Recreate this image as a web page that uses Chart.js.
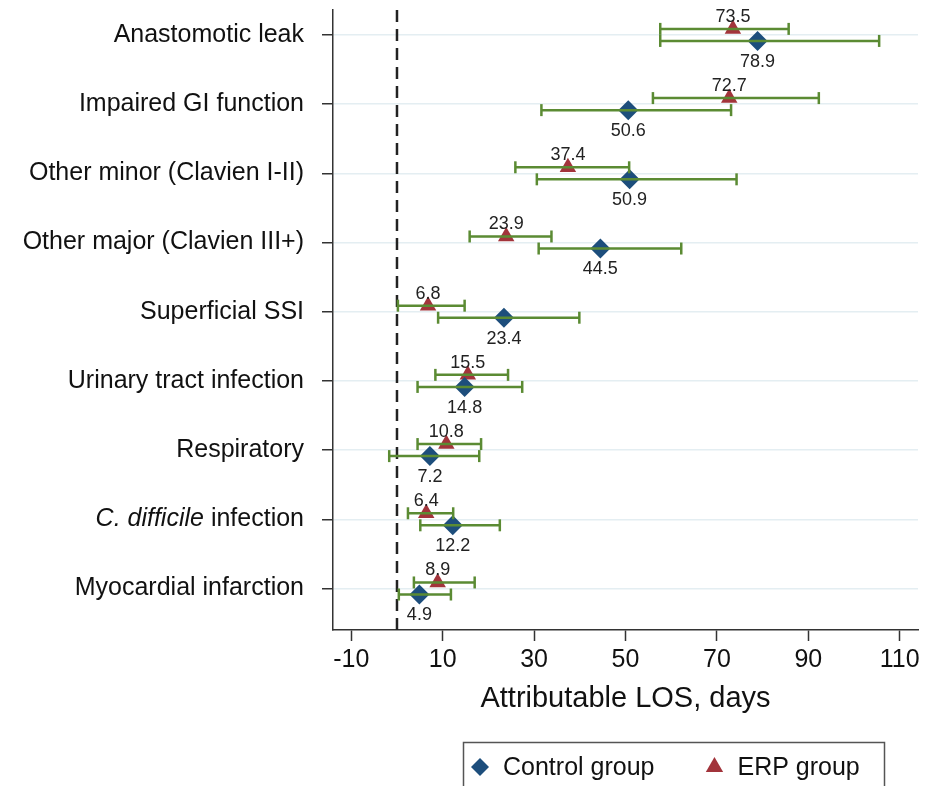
<!DOCTYPE html>
<html>
<head>
<meta charset="utf-8">
<script src="https://cdn.jsdelivr.net/npm/chart.js@4.4.1/dist/chart.umd.min.js"></script>
<style>
  html, body { margin: 0; padding: 0; background: #fff; overflow: hidden; }
  canvas { display: block; }
</style>
</head>
<body>
<canvas id="los" width="936" height="800"></canvas>
<script>
// complications, top to bottom
const categories = [
  'Anastomotic leak',
  'Impaired GI function',
  'Other minor (Clavien I-II)',
  'Other major (Clavien III+)',
  'Superficial SSI',
  'Urinary tract infection',
  'Respiratory',
  'C. difficile infection',
  'Myocardial infarction'
];
const italicPart = 'C. difficile';

// attributable LOS (days) with 95% CI
const controlEst  = [78.9, 50.6, 50.9, 44.5, 23.4, 14.8, 7.2, 12.2, 4.9];
const controlLow  = [57.6, 31.6, 30.6, 31.0, 9.0, 4.5, -1.7, 5.1, 0.4];
const controlHigh = [105.5, 73.1, 74.3, 62.2, 39.9, 27.4, 18.0, 22.5, 11.8];

const erpEst  = [73.5, 72.7, 37.4, 23.9, 6.8, 15.5, 10.8, 6.4, 8.9];
const erpLow  = [57.6, 56.0, 25.9, 15.9, 0.2, 8.4, 4.5, 2.4, 3.7];
const erpHigh = [85.7, 92.3, 50.8, 33.8, 14.8, 24.3, 18.4, 12.3, 17.0];

const xTicks = [-10, 10, 30, 50, 70, 90, 110];
const refLine = 0;

const FONT = '"Liberation Sans", Arial, Helvetica, sans-serif';
const BLUE = '#1d4e7c';
const RED = '#a2343b';
const GREEN = '#5b8b33';
const ROW_SHIFT = 0.087;
const Y_MIN = 0.64, Y_MAX = 9.6;

const rows = categories.map((c, i) => i + 1);

function points(est, shift) {
  return est.map((v, i) => ({ x: v, y: rows[i] + shift }));
}

function bars(lo, hi, shift) {
  const out = [];
  lo.forEach((v, i) => {
    out.push({ x: v, y: rows[i] + shift }, { x: hi[i], y: rows[i] + shift }, { x: null, y: null });
  });
  return out;
}

function barSet(data) {
  return {
    data: data,
    showLine: true,
    borderColor: GREEN,
    borderWidth: 2.5,
    pointStyle: 'line',
    pointRotation: 90,
    pointRadius: 6,
    pointBorderWidth: 2.5,
    pointBorderColor: GREEN,
    order: 0
  };
}

// value labels next to the markers
const valueLabels = {
  id: 'valueLabels',
  afterDatasetsDraw(chart) {
    const ctx = chart.ctx;
    ctx.save();
    ctx.font = '18px ' + FONT;
    ctx.fillStyle = '#222';
    ctx.textAlign = 'center';
    ctx.textBaseline = 'middle';
    chart.data.datasets.forEach((ds, di) => {
      if (!ds.valueOffset) return;
      chart.getDatasetMeta(di).data.forEach((el, i) => {
        ctx.fillText(ds.data[i].x.toFixed(1), el.x, el.y + ds.valueOffset);
      });
    });
    ctx.restore();
  }
};

// category label with an italic part
const italicTick = {
  id: 'italicTick',
  afterDraw(chart) {
    const y = chart.scales.y;
    const ctx = chart.ctx;
    const right = y.right - y.options.grid.tickLength - y.options.ticks.padding;
    ctx.save();
    ctx.fillStyle = '#111';
    ctx.textBaseline = 'middle';
    ctx.textAlign = 'right';
    categories.forEach((c, i) => {
      if (c.indexOf(italicPart) !== 0) return;
      const py = y.getPixelForValue(rows[i]);
      const rest = c.slice(italicPart.length);
      ctx.font = '25px ' + FONT;
      ctx.fillText(rest, right, py);
      const w = ctx.measureText(rest).width;
      ctx.font = 'italic 25px ' + FONT;
      ctx.fillText(italicPart, right - w, py);
    });
    ctx.restore();
  }
};

// framed legend below the axis title
const boxLegend = {
  id: 'boxLegend',
  afterDraw(chart, args, opts) {
    const ctx = chart.ctx;
    ctx.save();
    ctx.strokeStyle = '#555';
    ctx.lineWidth = 1.5;
    ctx.strokeRect(opts.left, opts.top, opts.width, opts.height);
    ctx.font = '25px ' + FONT;
    ctx.textBaseline = 'middle';
    ctx.textAlign = 'left';
    let x = opts.firstX;
    chart.data.datasets.filter(d => d.inLegend).forEach(ds => {
      ctx.fillStyle = ds.backgroundColor;
      Chart.helpers.drawPoint(ctx, {
        pointStyle: ds.pointStyle, radius: ds.legendRadius, rotation: 0, borderWidth: 0
      }, x, opts.y);
      ctx.fillStyle = '#111';
      ctx.fillText(ds.label, x + 23, opts.y + 1);
      x += 23 + ctx.measureText(ds.label).width + 60;
    });
    ctx.restore();
  }
};

new Chart(document.getElementById('los'), {
  type: 'scatter',
  data: {
    datasets: [
      {
        label: 'Control group',
        data: points(controlEst, ROW_SHIFT),
        pointStyle: 'rectRot',
        pointRadius: 10,
        backgroundColor: BLUE,
        borderWidth: 0,
        valueOffset: 21,
        inLegend: true,
        legendRadius: 9,
        order: 1
      },
      {
        label: 'ERP group',
        data: points(erpEst, -ROW_SHIFT),
        pointStyle: 'triangle',
        pointRadius: 9.5,
        backgroundColor: RED,
        borderWidth: 0,
        valueOffset: -12,
        inLegend: true,
        legendRadius: 10,
        order: 1
      },
      Object.assign(barSet(bars(erpLow, erpHigh, -ROW_SHIFT)), { label: 'ERP CI' }),
      Object.assign(barSet(bars(controlLow, controlHigh, ROW_SHIFT)), { label: 'Control CI' }),
      {
        label: 'zero',
        data: [{ x: refLine, y: Y_MIN }, { x: refLine, y: Y_MAX }],
        showLine: true,
        borderColor: '#222',
        borderWidth: 2.5,
        borderDash: [12, 7],
        pointRadius: 0,
        order: 2
      }
    ]
  },
  options: {
    responsive: false,
    animation: false,
    events: [],
    layout: { padding: { top: 10, right: 18, bottom: 80, left: 0 } },
    scales: {
      x: {
        type: 'linear',
        min: -14,
        max: 114,
        afterFit(s) { s.height = 90; },
        afterBuildTicks(s) { s.ticks = xTicks.map(v => ({ value: v })); },
        grid: { drawOnChartArea: false, tickLength: 11, tickColor: '#333', tickWidth: 1.5 },
        border: { color: '#333', width: 1.5 },
        ticks: { color: '#111', font: { family: FONT, size: 25 }, padding: 4, maxRotation: 0 },
        title: {
          display: true,
          text: 'Attributable LOS, days',
          color: '#111',
          font: { family: FONT, size: 29 },
          padding: { top: 0, bottom: 4 }
        }
      },
      y: {
        type: 'linear',
        reverse: true,
        min: Y_MIN,
        max: Y_MAX,
        afterFit(s) { s.width = 333; s.paddingTop = 0; s.paddingBottom = 0; },
        afterBuildTicks(s) { s.ticks = rows.map(v => ({ value: v })); },
        grid: { color: '#e4eef2', lineWidth: 1.5, tickLength: 11, tickColor: '#333', tickWidth: 1.5 },
        border: { color: '#333', width: 1.5 },
        ticks: {
          color: '#111',
          font: { family: FONT, size: 25 },
          padding: 18,
          callback(value) {
            const c = categories[Math.round(value) - 1];
            return c.indexOf(italicPart) === 0 ? '' : c;
          }
        }
      }
    },
    plugins: {
      legend: { display: false },
      tooltip: { enabled: false },
      boxLegend: { left: 463.5, top: 742.5, width: 421, height: 90, firstX: 480, y: 767 }
    }
  },
  plugins: [valueLabels, italicTick, boxLegend]
});
</script>
</body>
</html>
